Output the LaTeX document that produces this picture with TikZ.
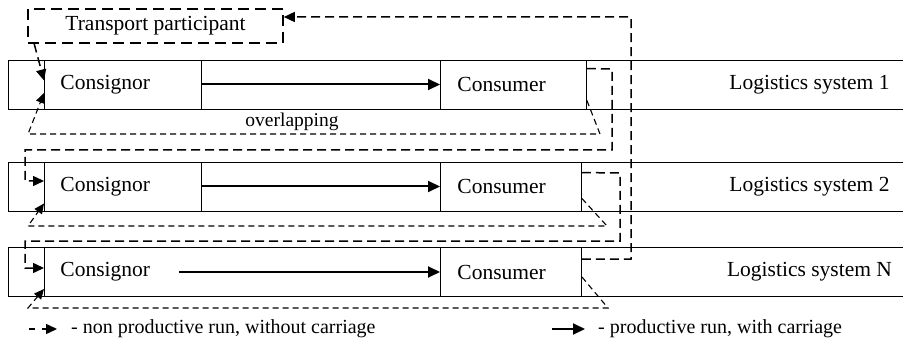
\documentclass[tikz,border=0pt]{standalone}
\usepackage{fontspec}
\setmainfont{Liberation Serif}
\usetikzlibrary{arrows.meta}
\begin{document}
\begin{tikzpicture}[x=1pt, y=-1pt,
    every node/.style={font=\fontsize{21.5}{25}\selectfont},
    sysline/.style={line width=0.9pt},
    box/.style={draw, line width=0.9pt, minimum height=49pt, inner xsep=16pt, text width=#1, align=left, anchor=west},
    run/.style={line width=2pt, -{Triangle[length=12pt, width=11pt]}},
    idle/.style={line width=1.1pt, dash pattern=on 6pt off 4pt, -{Triangle[length=10pt, width=9pt]}},
    hop/.style={line width=1.5pt, dash pattern=on 9pt off 5pt, -{Triangle[length=11pt, width=10pt]}},
    small/.style={font=\fontsize{20}{24}\selectfont}]
    \useasboundingbox (0,0) rectangle (903,342);
    \foreach \t/\b in {60/109, 162/211, 247.5/296.5}
        \draw[sysline] (903,\t) -| (8,\b) -- (903,\b);
    \node[draw, line width=1.6pt, dash pattern=on 11pt off 6pt, minimum width=255pt, minimum height=34pt] (tp) at (155.5,26) {Transport participant};
    \node[box=125pt] (cgn1) at (44,84.5) {Consignor};
    \node[box=112pt, inner xsep=17pt] (csm1) at (440,84.5) {Consumer};
    \node (sys1) at (809.5,84.5) {Logistics system 1};
    \node[box=125pt] (cgn2) at (44,186.5) {Consignor};
    \node[box=107pt, inner xsep=17pt] (csm2) at (440,186.5) {Consumer};
    \node (sys2) at (809.5,186.5) {Logistics system 2};
    \node[box=125pt, draw=none] (cgn3) at (44,272) {Consignor};
    \node[box=107pt, inner xsep=17pt] (csm3) at (440,272) {Consumer};
    \node (sys3) at (809.5,272) {Logistics system N};
    \draw[sysline] (cgn3.north west) -- (cgn3.south west);
    \node[font=\fontsize{19.5}{23}\selectfont] (ovl) at (292,122) {overlapping};
    \draw[run] (cgn1.east) -- (csm1.west);
    \draw[run] (cgn2.east) -- (csm2.west);
    \draw[run] ([xshift=-23pt]cgn3.east) -- (csm3.west);
    \draw[hop] ([xshift=7pt]tp.south west) -- ([yshift=4pt]cgn1.west);
    \draw[idle] ([yshift=9pt]csm1.south east) -- (600,134) -- (28,134) -- ([yshift=-8.5pt]cgn1.west);
    \draw[hop] ([yshift=-9pt]csm1.north east) -- (612,69) -- (612,150) -- (25,150) -- (25,181) -- ([yshift=5.5pt]cgn2.west);
    \draw[idle] ([yshift=13pt]csm2.south east) -- (607,226) -- (28,226) -- ([yshift=-17pt]cgn2.west);
    \draw[hop] ([yshift=-11pt]csm2.north east) -- (620,173) -- (620,241) -- (25,241) -- (25,268) -- ([yshift=4pt]cgn3.west);
    \draw[idle] ([yshift=20pt]csm3.south east) -- (608,308) -- (28,308) -- ([yshift=-17pt]cgn3.west);
    \draw[hop] ([yshift=-12pt]csm3.north east) -- (631,259) -- (631,17) -- ([yshift=9pt]tp.east);
    \node[small, anchor=west, inner sep=0pt] (key1) at (71,329) {- non productive run, without carriage};
    \coordinate (key1a) at (29,329);
    \draw[hop, dash pattern=on 6pt off 7pt] (key1a) -- ([xshift=-14pt]key1.west);
    \node[small, anchor=west, inner sep=0pt] (key2) at (598,329) {- productive run, with carriage};
    \draw[run] ([xshift=-46pt]key2.west) -- ([xshift=-13pt]key2.west);
\end{tikzpicture}
\end{document}
